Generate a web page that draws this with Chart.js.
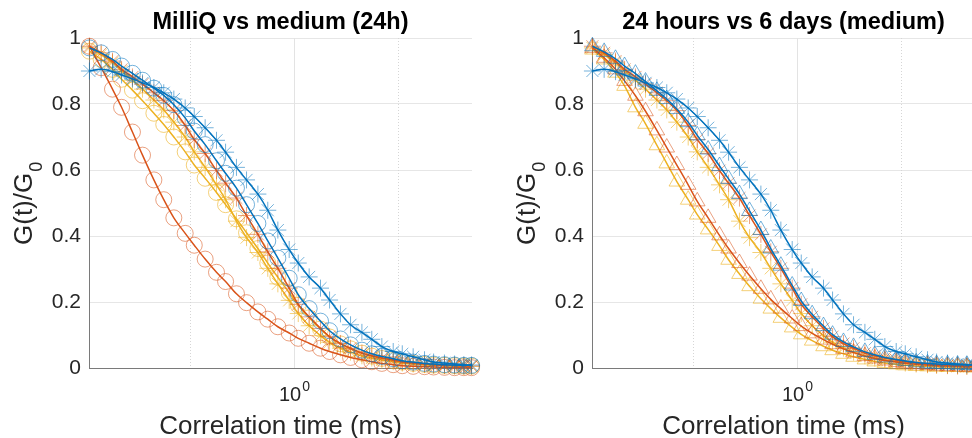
<!DOCTYPE html>
<html>
<head>
<meta charset="utf-8">
<script src="https://cdn.jsdelivr.net/npm/chart.js@4.4.1/dist/chart.umd.min.js"></script>
<style>
  html, body { margin: 0; padding: 0; background: #fff; width: 972px; height: 438px; overflow: hidden; }
  .panel { position: absolute; top: 0; }
</style>
</head>
<body>
<div class="panel" style="left:0"><canvas id="milliq" width="486" height="438"></canvas></div>
<div class="panel" style="left:486px"><canvas id="days" width="500" height="438"></canvas></div>
<script>
// lag times (ms)
const lagTime = [0.0108, 0.014, 0.018, 0.022, 0.028, 0.035, 0.045, 0.056, 0.07, 0.09, 0.11, 0.14, 0.18, 0.22, 0.28, 0.35, 0.45, 0.56, 0.7, 0.9,
  1.1, 1.4, 1.8, 2.2, 2.8, 3.5, 4.5, 5.6, 7, 9, 11, 14, 18, 22, 28, 35, 43, 51];

// medium, 24 hours (asterisks)
const blueStar = [0.900, 0.905, 0.898, 0.888, 0.876, 0.864, 0.850, 0.834, 0.815, 0.788, 0.762, 0.728, 0.690, 0.654, 0.608, 0.570, 0.527, 0.478, 0.418, 0.359,
  0.318, 0.276, 0.242, 0.206, 0.164, 0.131, 0.108, 0.087, 0.065, 0.050, 0.043, 0.034, 0.025, 0.018, 0.015, 0.012, 0.010, 0.009];
const orangeStar = [0.975, 0.955, 0.930, 0.905, 0.882, 0.860, 0.834, 0.810, 0.780, 0.735, 0.692, 0.650, 0.598, 0.560, 0.515, 0.462, 0.405, 0.352, 0.302, 0.242,
  0.193, 0.155, 0.120, 0.095, 0.074, 0.060, 0.045, 0.037, 0.030, 0.024, 0.019, 0.015, 0.012, 0.010, 0.008, 0.007, 0.006, 0.006];
const yellowStar = [0.970, 0.950, 0.925, 0.900, 0.872, 0.845, 0.812, 0.782, 0.745, 0.700, 0.655, 0.608, 0.555, 0.510, 0.445, 0.395, 0.350, 0.302, 0.255, 0.205,
  0.165, 0.128, 0.098, 0.078, 0.060, 0.048, 0.037, 0.030, 0.024, 0.019, 0.015, 0.012, 0.010, 0.008, 0.007, 0.006, 0.005, 0.005];

// MilliQ, 24 hours (circles)
const blueCircle = [0.970, 0.955, 0.935, 0.915, 0.893, 0.872, 0.848, 0.826, 0.798, 0.758, 0.718, 0.677, 0.628, 0.590, 0.545, 0.495, 0.438, 0.385, 0.333, 0.272,
  0.222, 0.180, 0.142, 0.113, 0.088, 0.070, 0.054, 0.043, 0.035, 0.028, 0.022, 0.018, 0.014, 0.012, 0.010, 0.009, 0.008, 0.008];
const orangeCircle = [0.975, 0.910, 0.845, 0.790, 0.715, 0.645, 0.570, 0.510, 0.455, 0.408, 0.372, 0.330, 0.290, 0.262, 0.225, 0.198, 0.170, 0.148, 0.125, 0.106,
  0.090, 0.075, 0.060, 0.050, 0.040, 0.032, 0.025, 0.019, 0.014, 0.010, 0.007, 0.005, 0.004, 0.003, 0.002, 0.001, 0.001, 0.001];
const yellowCircle = [0.960, 0.935, 0.905, 0.875, 0.842, 0.810, 0.772, 0.738, 0.700, 0.655, 0.615, 0.575, 0.532, 0.495, 0.452, 0.410, 0.362, 0.318, 0.275, 0.228,
  0.190, 0.152, 0.118, 0.094, 0.073, 0.058, 0.045, 0.036, 0.029, 0.023, 0.018, 0.014, 0.011, 0.009, 0.008, 0.007, 0.006, 0.006];

// medium, 6 days (triangles)
const blueTriangle = [0.975, 0.958, 0.937, 0.915, 0.892, 0.868, 0.840, 0.815, 0.785, 0.745, 0.705, 0.662, 0.612, 0.573, 0.527, 0.476, 0.418, 0.362, 0.310, 0.250,
  0.203, 0.163, 0.127, 0.101, 0.079, 0.064, 0.049, 0.040, 0.032, 0.026, 0.021, 0.017, 0.014, 0.012, 0.011, 0.010, 0.010, 0.010];
const orangeTriangle = [0.970, 0.940, 0.905, 0.870, 0.825, 0.778, 0.720, 0.668, 0.615, 0.555, 0.505, 0.455, 0.402, 0.362, 0.318, 0.280, 0.240, 0.208, 0.180, 0.150,
  0.127, 0.105, 0.086, 0.072, 0.058, 0.047, 0.036, 0.029, 0.023, 0.018, 0.014, 0.011, 0.009, 0.007, 0.006, 0.005, 0.004, 0.004];
const yellowTriangle = [0.965, 0.935, 0.895, 0.855, 0.790, 0.740, 0.675, 0.620, 0.565, 0.510, 0.465, 0.420, 0.370, 0.328, 0.285, 0.248, 0.210, 0.180, 0.152, 0.123,
  0.102, 0.083, 0.066, 0.054, 0.043, 0.034, 0.026, 0.020, 0.015, 0.011, 0.008, 0.006, 0.005, 0.004, 0.003, 0.003, 0.002, 0.002];

const yTicks = [0, 0.2, 0.4, 0.6, 0.8, 1];
const FONT = "'Liberation Sans', Arial, Helvetica, sans-serif";

const colors = {
  blue: { line: '#0072BD', marker: 'rgba(0,114,189,0.55)' },
  orange: { line: '#D95319', marker: 'rgba(217,83,25,0.55)' },
  yellow: { line: '#EDB120', marker: 'rgba(237,177,32,0.6)' },
};

function series(values, color, style, radius) {
  return {
    data: lagTime.map((t, i) => ({ x: t, y: values[i] })),
    showLine: true,
    borderColor: color.line,
    borderWidth: 1.5,
    cubicInterpolationMode: 'monotone',
    pointStyle: style,
    pointRadius: radius,
    pointBorderColor: color.marker,
    pointBackgroundColor: 'rgba(0,0,0,0)',
    pointBorderWidth: 1,
    clip: false,
  };
}

// titles, axis labels, x tick label and log grid drawn on top of the library's scales
function decorations(title) {
  return {
    id: 'decorations',
    beforeDatasetsDraw(chart) {
      const { ctx, chartArea } = chart;
      const x = chart.scales.x;
      ctx.save();
      ctx.lineWidth = 1;
      [0.1, 1, 10].forEach((v) => {
        const px = Math.round(x.getPixelForValue(v)) + 0.5;
        ctx.strokeStyle = v === 1 ? '#e3e3e3' : '#d6d6d6';
        ctx.setLineDash(v === 1 ? [] : [1, 2]);
        ctx.beginPath();
        ctx.moveTo(px, chartArea.top);
        ctx.lineTo(px, chartArea.bottom);
        ctx.stroke();
      });
      ctx.restore();
    },
    afterDraw(chart) {
      const { ctx, chartArea } = chart;
      const cx = (chartArea.left + chartArea.right) / 2;
      ctx.save();
      ctx.fillStyle = '#000';
      ctx.textAlign = 'center';
      ctx.textBaseline = 'alphabetic';
      ctx.font = 'bold 23.5px ' + FONT;
      ctx.fillText(title, cx, 29);

      ctx.fillStyle = '#262626';
      ctx.font = '26px ' + FONT;
      ctx.fillText('Correlation time (ms)', cx, 434);

      // 10^0 tick label
      const p1 = chart.scales.x.getPixelForValue(1);
      ctx.font = '20px ' + FONT;
      const w10 = ctx.measureText('10').width;
      ctx.font = '14px ' + FONT;
      const wSup = ctx.measureText('0').width;
      const start = p1 - (w10 + wSup) / 2;
      ctx.textAlign = 'left';
      ctx.font = '20px ' + FONT;
      ctx.fillText('10', start, 401);
      ctx.font = '14px ' + FONT;
      ctx.fillText('0', start + w10 + 1, 391);

      // G(t)/G0 rotated
      ctx.translate(chartArea.left - 57, chartArea.bottom - 123);
      ctx.rotate(-Math.PI / 2);
      ctx.font = '26px ' + FONT;
      const wMain = ctx.measureText('G(t)/G').width;
      ctx.fillText('G(t)/G', 0, 0);
      ctx.font = '18px ' + FONT;
      ctx.fillText('0', wMain + 1, 10);
      ctx.restore();
    },
  };
}

function makeChart(id, title, datasets, yAxisWidth, rightPad) {
  return new Chart(id, {
    type: 'scatter',
    data: { datasets: datasets },
    options: {
      responsive: false,
      animation: false,
      layout: { padding: { top: 38, right: rightPad, left: 0, bottom: 0 } },
      plugins: { legend: { display: false }, tooltip: { enabled: false } },
      scales: {
        x: {
          type: 'logarithmic',
          min: 0.0107,
          max: 51.5,
          grid: { display: false },
          border: { display: true, color: '#7a7a7a', width: 1 },
          ticks: { callback: () => '' },
          afterBuildTicks: (scale) => { scale.ticks = [{ value: 1 }]; },
          afterFit: (scale) => { scale.height = 70; },
        },
        y: {
          min: 0,
          max: 1,
          afterBuildTicks: (scale) => { scale.ticks = yTicks.map((v) => ({ value: v })); },
          ticks: {
            color: '#262626',
            padding: 8,
            font: { size: 21, family: FONT },
            callback: (v) => String(Math.round(v * 10) / 10),
          },
          grid: { color: '#e6e6e6', drawTicks: false },
          border: { display: true, color: '#7a7a7a', width: 1 },
          afterFit: (scale) => { scale.width = yAxisWidth; },
        },
      },
    },
    plugins: [decorations(title)],
  });
}

makeChart('milliq', 'MilliQ vs medium (24h)', [
  series(blueStar, colors.blue, 'star', 8.5),
  series(blueCircle, colors.blue, 'circle', 8),
  series(orangeStar, colors.orange, 'star', 8.5),
  series(orangeCircle, colors.orange, 'circle', 8),
  series(yellowStar, colors.yellow, 'star', 8.5),
  series(yellowCircle, colors.yellow, 'circle', 8),
], 89, 14);

makeChart('days', '24 hours vs 6 days (medium)', [
  series(blueStar, colors.blue, 'star', 8.5),
  series(blueTriangle, colors.blue, 'triangle', 9),
  series(orangeStar, colors.orange, 'star', 8.5),
  series(orangeTriangle, colors.orange, 'triangle', 9),
  series(yellowStar, colors.yellow, 'star', 8.5),
  series(yellowTriangle, colors.yellow, 'triangle', 9),
], 106, 11);
</script>
</body>
</html>
